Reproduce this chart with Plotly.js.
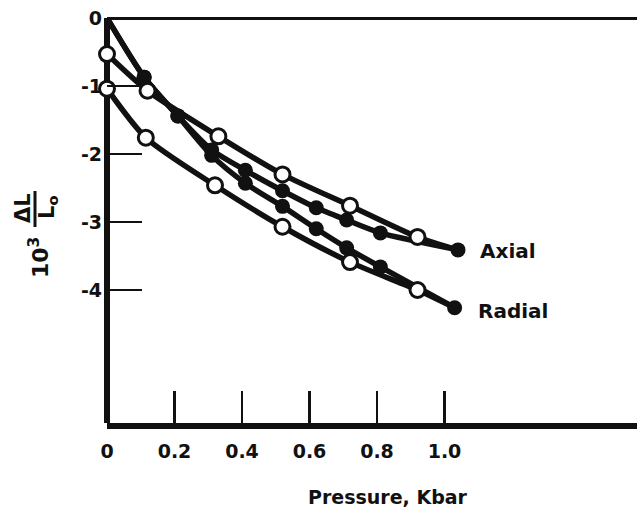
<!DOCTYPE html>
<html>
<head>
<meta charset="utf-8">
<script src="https://cdn.plot.ly/plotly-3.0.1.min.js"></script>
<style>html,body{margin:0;padding:0;background:#fff}#chart{width:637px;height:518px}</style>
</head>
<body>
<div id="chart"></div>
<script>
// Pressure (kbar) and 10^3 ΔL/Lo values
const axialLoadP  = [0, 0.11, 0.21, 0.31, 0.41, 0.52, 0.62, 0.71, 0.81, 1.04];
const axialLoadV  = [0, -0.87, -1.44, -1.94, -2.24, -2.54, -2.79, -2.97, -3.16, -3.41];
const axialOpenP  = [0, 0.12, 0.33, 0.52, 0.72, 0.92];
const axialOpenV  = [-0.53, -1.07, -1.74, -2.30, -2.76, -3.22];
const radialLoadP = [0, 0.11, 0.21, 0.31, 0.41, 0.52, 0.62, 0.71, 0.81, 1.03];
const radialLoadV = [0, -0.87, -1.44, -2.02, -2.43, -2.77, -3.10, -3.38, -3.66, -4.26];
const radialOpenP = [0, 0.115, 0.32, 0.52, 0.72, 0.92];
const radialOpenV = [-1.04, -1.76, -2.46, -3.07, -3.59, -4.00];
const xTickVals = [0, 0.2, 0.4, 0.6, 0.8, 1.0];
const xTickText = ["0", "0.2", "0.4", "0.6", "0.8", "1.0"];
const yTickVals = [0, -1, -2, -3, -4];
const yTickText = ["0", "-1", "-2", "-3", "-4"];

const INK = '#111';
const FONT = 'DejaVu Sans, Liberation Sans, sans-serif';

function lineTrace(x, y) {
  return {x: x, y: y, mode: 'lines', type: 'scatter', hoverinfo: 'skip',
    line: {color: INK, width: 5.5, shape: 'spline', smoothing: 0.7}, cliponaxis: false};
}
function markerTrace(x, y, filled) {
  return {x: x, y: y, mode: 'markers', type: 'scatter', cliponaxis: false,
    marker: {size: 15, color: filled ? INK : '#fff', line: {color: INK, width: filled ? 0 : 3}}};
}
// skip the origin marker (curve start only)
function dropOrigin(p, v) {
  const x = [], y = [];
  p.forEach((pp, i) => { if (!(pp === 0 && v[i] === 0)) { x.push(pp); y.push(v[i]); } });
  return [x, y];
}
const aL = dropOrigin(axialLoadP, axialLoadV);
const rL = dropOrigin(radialLoadP, radialLoadV);

const data = [
  lineTrace(axialOpenP.concat(axialLoadP.slice(-1)), axialOpenV.concat(axialLoadV.slice(-1))),
  lineTrace(radialOpenP.concat(radialLoadP.slice(-1)), radialOpenV.concat(radialLoadV.slice(-1))),
  lineTrace(axialLoadP, axialLoadV),
  lineTrace(radialLoadP, radialLoadV),
  markerTrace(aL[0], aL[1], true),
  markerTrace(rL[0], rL[1], true),
  markerTrace(axialOpenP, axialOpenV, false),
  markerTrace(radialOpenP, radialOpenV, false)
];

const L = 107, W = 530, T = 18, H = 405;
function px(xp) { return (xp - L) / W; }
function py(yp) { return (T + H - yp) / H; }

const txt = (s, x, y, size, extra) => Object.assign({
  text: s, xref: 'paper', yref: 'paper', x: px(x), y: py(y), showarrow: false,
  xanchor: 'center', yanchor: 'middle', font: {family: FONT, size: size, color: INK, weight: 'bold'}
}, extra || {});

const layout = {
  width: 637, height: 518,
  margin: {l: L, r: 0, t: T, b: 518 - T - H, pad: 0},
  paper_bgcolor: '#fff', plot_bgcolor: '#fff',
  showlegend: false,
  xaxis: {
    range: [0, W / 337.5], tickmode: 'array', tickvals: xTickVals, ticktext: xTickText,
    ticks: 'inside', ticklen: 32, tickwidth: 2.5, tickcolor: INK,
    showline: true, linewidth: 6, linecolor: INK, showgrid: false,
    zeroline: true, zerolinewidth: 6, zerolinecolor: INK,
    ticklabelstandoff: 6,
    tickfont: {family: FONT, size: 19, color: INK, weight: 'bold'}
  },
  yaxis: {
    range: [-H / 68, 0], tickmode: 'array', tickvals: yTickVals, ticktext: yTickText,
    ticks: 'inside', ticklen: 35, tickwidth: 2.5, tickcolor: INK,
    showline: false, showgrid: false,
    zeroline: true, zerolinewidth: 3, zerolinecolor: INK,
    ticklabelstandoff: 4,
    tickfont: {family: FONT, size: 19, color: INK, weight: 'bold'}
  },
  annotations: [
    txt('Pressure, Kbar', 388, 497, 19),
    txt('Axial', 478, 251, 20, {xanchor: 'left'}),
    txt('Radial', 476, 311, 20, {xanchor: 'left'}),
    txt('10<sup>3</sup>', 39, 258, 22, {textangle: -90}),
    txt('ΔL', 23, 208, 21, {textangle: -90}),
    txt('L<sub>o</sub>', 48, 208, 21, {textangle: -90})
  ],
  shapes: [
    {type: 'line', xref: 'paper', yref: 'paper', x0: px(35), x1: px(35), y0: py(191), y1: py(227),
     line: {color: INK, width: 3}}
  ]
};

Plotly.newPlot('chart', data, layout, {staticPlot: true});
</script>
</body>
</html>
